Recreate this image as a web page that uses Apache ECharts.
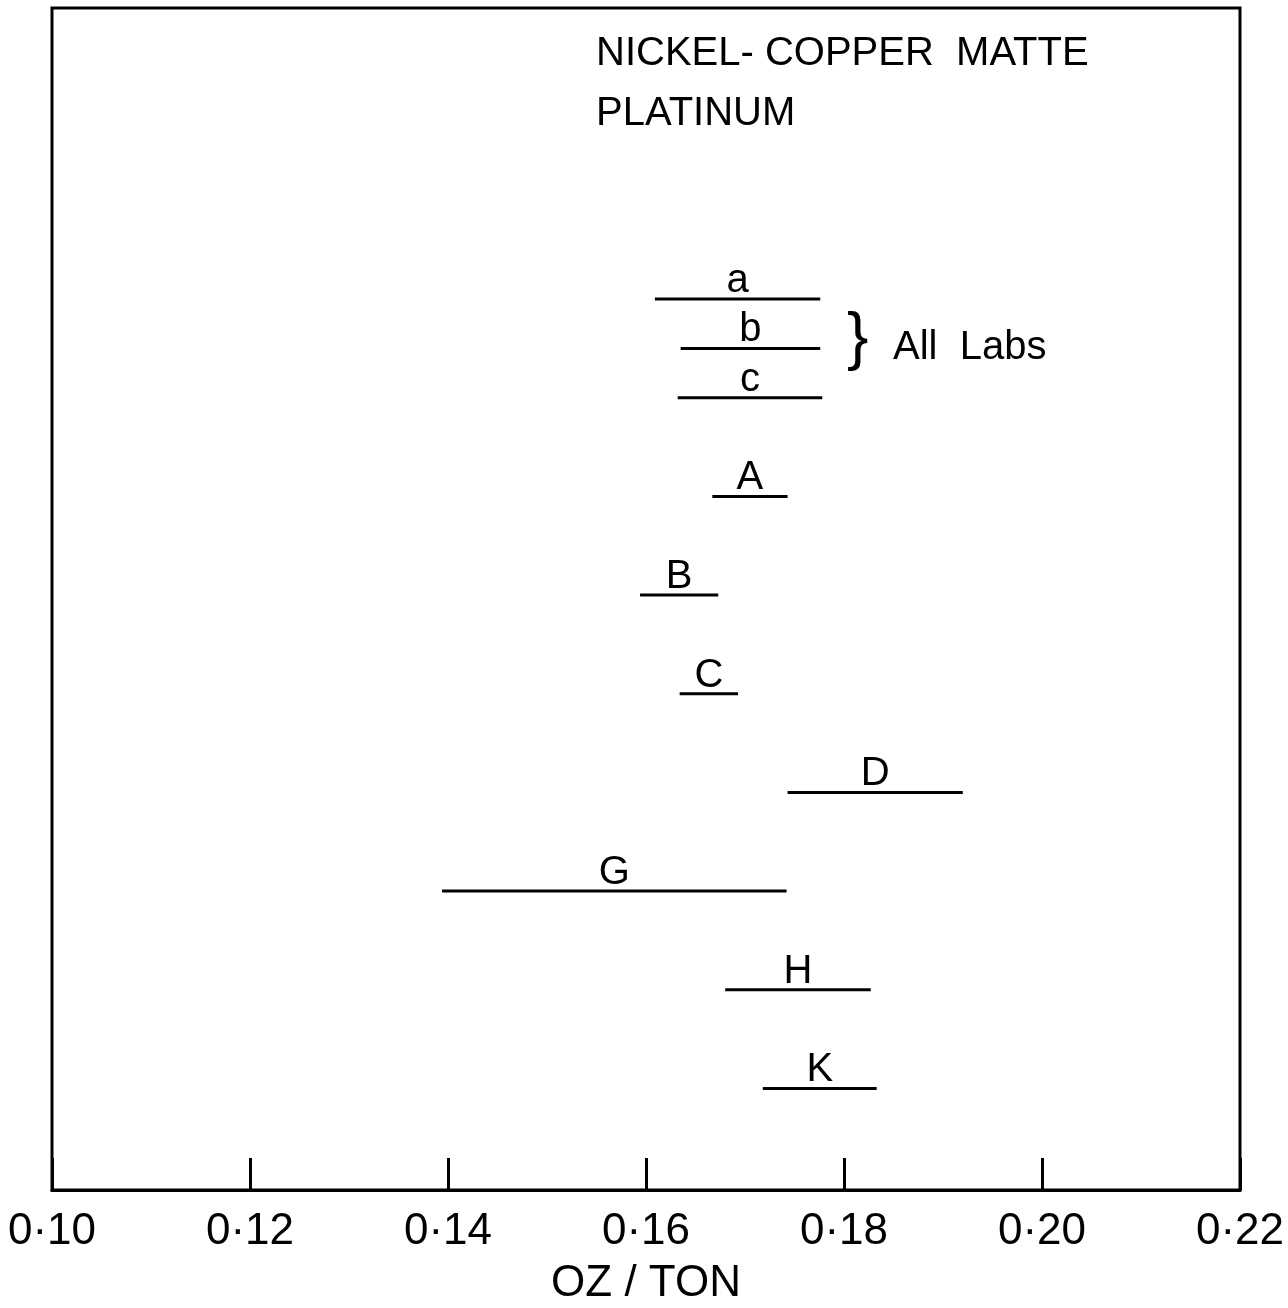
<!DOCTYPE html>
<html>
<head>
<meta charset="utf-8">
<script src="https://cdn.jsdelivr.net/npm/echarts@6/dist/echarts.min.js"></script>
<style>
  html, body { margin: 0; padding: 0; background: #fff; }
  #chart { width: 1288px; height: 1308px; }
</style>
</head>
<body>
<div id="chart"></div>
<script>
// lab codes, one horizontal range per lab
const labs = ['a', 'b', 'c', 'A', 'B', 'C', 'D', 'G', 'H', 'K']
// row of each range (0 = top row)
const rows = [0, 0.5, 1, 2, 3, 4, 5, 6, 7, 8]
// range ends, oz / ton
const lowValues = [0.1609, 0.1635, 0.1632, 0.1667, 0.1594, 0.1634, 0.1743, 0.1394, 0.1680, 0.1718]
const highValues = [0.1776, 0.1776, 0.1778, 0.1743, 0.1673, 0.1693, 0.1920, 0.1742, 0.1827, 0.1833]
// x axis ticks
const xTicks = [0.10, 0.12, 0.14, 0.16, 0.18, 0.20, 0.22]

const FONT = 'Liberation Sans'

const rangeData = labs.map((lab, i) => [lowValues[i], highValues[i], rows[i]])

const chart = echarts.init(document.getElementById('chart'))

const option = {
  backgroundColor: '#fff',
  animation: false,
  textStyle: { fontFamily: FONT, color: '#000' },
  grid: {
    left: 52,
    right: 48,
    top: 8,
    bottom: 118,
    containLabel: false,
    outerBoundsMode: 'none',
    show: true,
    borderColor: '#000',
    borderWidth: 3
  },
  xAxis: {
    type: 'value',
    min: xTicks[0],
    max: xTicks[xTicks.length - 1],
    interval: 0.02,
    name: 'OZ / TON',
    nameLocation: 'middle',
    nameGap: 72,
    nameTextStyle: { fontFamily: FONT, fontSize: 44, color: '#000' },
    axisLine: { onZero: false, lineStyle: { color: '#000', width: 3 } },
    axisTick: { inside: true, length: 32, lineStyle: { color: '#000', width: 3 } },
    axisLabel: {
      fontFamily: FONT,
      fontSize: 44,
      color: '#000',
      margin: 20,
      formatter: v => v.toFixed(2).replace('.', '·')
    },
    splitLine: { show: false }
  },
  yAxis: {
    type: 'value',
    inverse: true,
    min: -2.95,
    max: 9.03,
    show: false
  },
  graphic: [
    {
      type: 'text',
      left: 596,
      top: 24,
      style: {
        text: 'NICKEL- COPPER  MATTE\nPLATINUM',
        font: '40px "' + FONT + '"',
        lineHeight: 60,
        fill: '#000'
      }
    },
    {
      type: 'text',
      left: 847,
      top: 308,
      style: { text: '}', font: '64px "' + FONT + '"', fill: '#000' }
    },
    {
      type: 'text',
      left: 893,
      top: 328,
      style: { text: 'All  Labs', font: '40px "' + FONT + '"', fill: '#000' }
    }
  ],
  series: [
    {
      type: 'custom',
      data: rangeData,
      renderItem (params, api) {
        const lo = api.coord([api.value(0), api.value(2)])
        const hi = api.coord([api.value(1), api.value(2)])
        return {
          type: 'group',
          children: [
            {
              type: 'line',
              shape: { x1: lo[0], y1: lo[1], x2: hi[0], y2: hi[1] },
              style: { stroke: '#000', lineWidth: 3 }
            },
            {
              type: 'text',
              style: {
                text: labs[params.dataIndex],
                x: (lo[0] + hi[0]) / 2,
                y: lo[1] + 2,
                align: 'center',
                verticalAlign: 'bottom',
                font: '40px "' + FONT + '"',
                fill: '#000'
              }
            }
          ]
        }
      }
    }
  ]
}

chart.setOption(option)
</script>
</body>
</html>
